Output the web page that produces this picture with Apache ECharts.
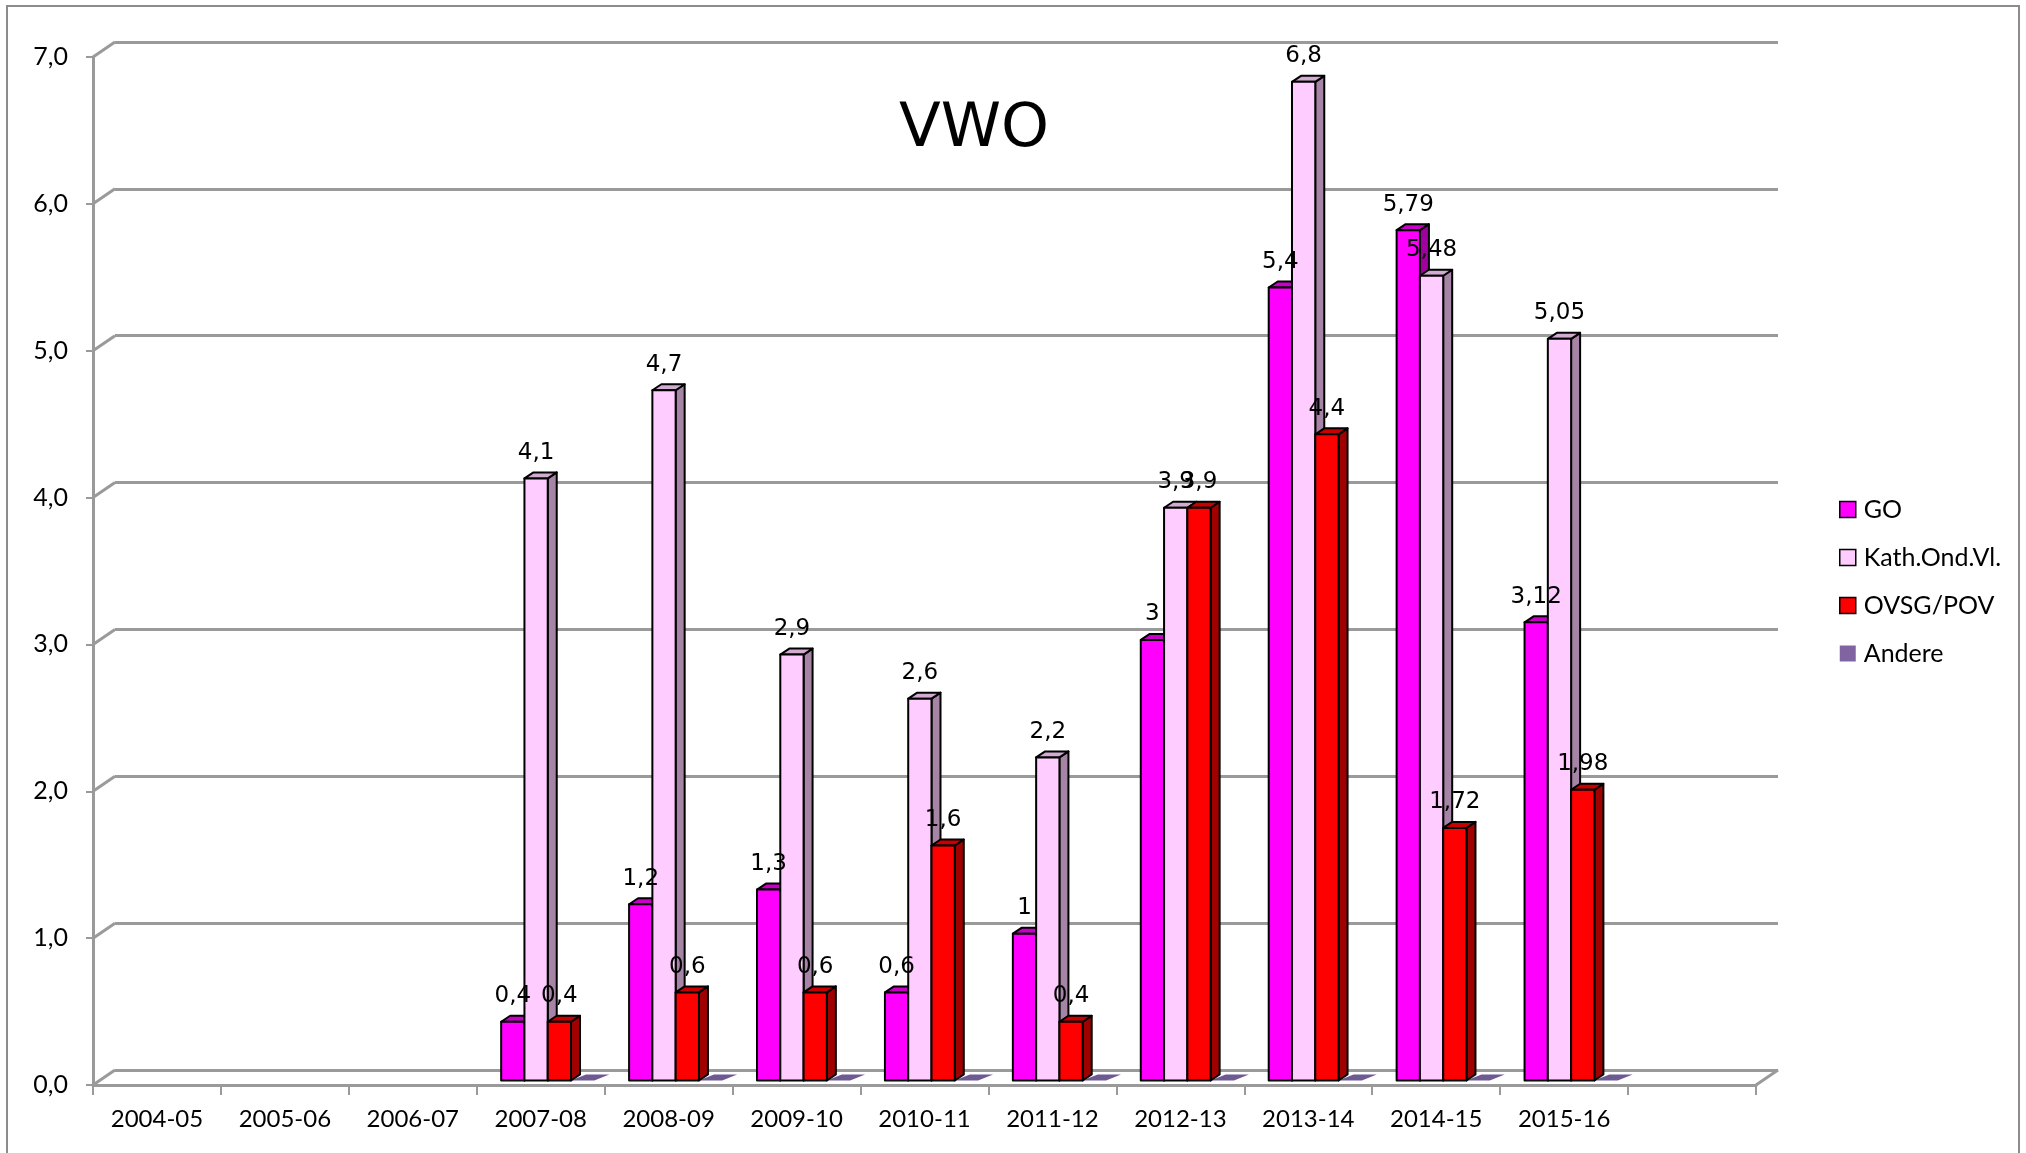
<!DOCTYPE html>
<html>
<head>
<meta charset="utf-8">
<title>VWO</title>
<script src="https://cdn.jsdelivr.net/npm/echarts@6/dist/echarts.min.js"></script>
<style>
  html, body { margin: 0; padding: 0; background: #fff; }
  #chart { width: 2026px; height: 1153px; }
</style>
</head>
<body>
<div id="chart"></div>
<script>
// schooljaren (laatste categorie is leeg)
var years = ['2004-05', '2005-06', '2006-07', '2007-08', '2008-09', '2009-10', '2010-11', '2011-12', '2012-13', '2013-14', '2014-15', '2015-16', ''];
var goValues = [null, null, null, 0.4, 1.2, 1.3, 0.6, 1, 3, 5.4, 5.79, 3.12, null];
var kathValues = [null, null, null, 4.1, 4.7, 2.9, 2.6, 2.2, 3.9, 6.8, 5.48, 5.05, null];
var ovsgValues = [null, null, null, 0.4, 0.6, 0.6, 1.6, 0.4, 3.9, 4.4, 1.72, 1.98, null];
var andereValues = [null, null, null, 0, 0, 0, 0, 0, 0, 0, 0, 0, null];
var yTicks = [0, 1, 2, 3, 4, 5, 6, 7];

// diepte-effect
var wallDx = 22, wallDy = 15;   // achterwand t.o.v. voorvlak
var barDx = 9, barDy = 6;       // diepte van een balk
var barShiftX = 7, barShiftY = 4.5;

var faces = [
  { front: '#FF00FF', top: '#C800C8', side: '#A000A0' },
  { front: '#FFCCFF', top: '#D2AAD2', side: '#A684A6' },
  { front: '#FF0000', top: '#C80000', side: '#A00000' },
  { front: '#8064A2', top: '#6E5A93', side: '#5C4A80' }
];

function fmt(v) {
  return String(v).replace('.', ',');
}

function barRenderer(k) {
  return function (params, api) {
    var idx = api.value(0);
    var val = api.value(1);
    if (isNaN(val)) return;
    var bandW = api.size([1, 0])[0];
    var bw = bandW * 0.182;
    var base = api.coord([idx, 0]);
    var top = api.coord([idx, val]);
    var x = base[0] + barShiftX - 2 * bw + k * bw;
    var yb = base[1] - barShiftY;
    var yt = top[1] - barShiftY;
    var f = faces[k];
    if (val === 0) {
      return {
        type: 'polygon',
        shape: { points: [[x, yb], [x + bw, yb], [x + bw + barDx + 6, yb - barDy], [x + barDx + 6, yb - barDy]] },
        style: { fill: f.top }
      };
    }
    var stroke = { stroke: '#000', lineWidth: 2, lineJoin: 'round' };
    return {
      type: 'group',
      children: [
        { type: 'polygon', shape: { points: [[x + bw, yt], [x + bw + barDx, yt - barDy], [x + bw + barDx, yb - barDy], [x + bw, yb]] },
          style: Object.assign({ fill: f.side }, stroke) },
        { type: 'polygon', shape: { points: [[x, yt], [x + barDx, yt - barDy], [x + bw + barDx, yt - barDy], [x + bw, yt]] },
          style: Object.assign({ fill: f.top }, stroke) },
        { type: 'rect', shape: { x: x, y: yt, width: bw, height: yb - yt },
          style: Object.assign({ fill: f.front }, stroke) },
        // waardelabel boven alle balken
        { type: 'text', z2: 100, style: { text: fmt(val), x: x + bw / 2, y: yt - 14, align: 'center', verticalAlign: 'bottom',
          font: '23px "DejaVu Sans"', fill: '#000' } }
      ]
    };
  };
}

function toData(arr) {
  return arr.map(function (v, i) { return [i, v]; });
}

var chart = echarts.init(document.getElementById('chart'));
var axisGray = '#9a9a9a';

var option = {
  backgroundColor: '#fff',
  animation: false,
  title: {
    text: 'VWO',
    left: 894,
    top: 95,
    textStyle: { fontFamily: 'DejaVu Sans', fontSize: 61, fontWeight: 'normal', color: '#000' }
  },
  legend: {
    orient: 'vertical',
    left: 1834,
    top: 492,
    itemWidth: 16,
    itemHeight: 16,
    itemGap: 23,
    icon: 'rect',
    textStyle: { fontFamily: 'Lato', fontSize: 25, color: '#000', padding: [0, 0, 0, 3] },
    data: [
      { name: 'GO', itemStyle: { color: '#FF00FF', borderColor: '#000', borderWidth: 1.5 } },
      { name: 'Kath.Ond.Vl.', itemStyle: { color: '#FFCCFF', borderColor: '#000', borderWidth: 1.5 } },
      { name: 'OVSG/POV', itemStyle: { color: '#FF0000', borderColor: '#000', borderWidth: 1.5 } },
      { name: 'Andere', itemStyle: { color: '#8064A2', borderWidth: 0 } }
    ]
  },
  graphic: [{
    type: 'rect',
    shape: { x: 7, y: 6, width: 2012, height: 1160 },
    style: { fill: 'none', stroke: '#8c8c8c', lineWidth: 2 },
    silent: true
  }],
  grid: [
    // voorvlak
    { left: 93, right: 270, top: 57, bottom: 68 },
    // achterwand
    { left: 93 + wallDx, right: 270 - wallDx, top: 57 - wallDy, bottom: 68 + wallDy }
  ],
  xAxis: [
    {
      type: 'category', gridIndex: 0, data: years,
      axisLine: { lineStyle: { color: axisGray, width: 3 } },
      axisTick: { show: true, alignWithLabel: false, length: 10, lineStyle: { color: axisGray, width: 2 } },
      axisLabel: { fontFamily: 'Lato', fontSize: 24, color: '#000', margin: 22, interval: 0 }
    },
    { type: 'category', gridIndex: 1, data: years, show: false }
  ],
  yAxis: [
    {
      type: 'value', gridIndex: 0, min: 0, max: 7, interval: 1,
      axisLine: { show: true, lineStyle: { color: axisGray, width: 3 } },
      axisTick: { show: true, length: 7, lineStyle: { color: axisGray, width: 2 } },
      splitLine: { show: false },
      axisLabel: { fontFamily: 'Lato', fontSize: 25, color: '#000', margin: 25,
        formatter: function (v) { return v.toFixed(1).replace('.', ','); } }
    },
    {
      type: 'value', gridIndex: 1, min: 0, max: 7, interval: 1,
      axisLine: { show: false }, axisTick: { show: false }, axisLabel: { show: false },
      splitLine: { show: true, lineStyle: { color: axisGray, width: 3 } }
    }
  ],
  series: [
    {
      // schuine verbindingen voorvlak -> achterwand
      type: 'custom', name: 'wand', xAxisIndex: 0, yAxisIndex: 0, z: 1, silent: true,
      data: yTicks.map(function (v) { return [0, v]; }),
      renderItem: function (params, api) {
        var bandW = api.size([1, 0])[0];
        var p = api.coord([0, api.value(1)]);
        var left = p[0] - bandW / 2;
        var lines = [{ type: 'line', shape: { x1: left, y1: p[1], x2: left + wallDx, y2: p[1] - wallDy },
          style: { stroke: axisGray, lineWidth: 3 } }];
        if (api.value(1) === 0) {
          var r = api.coord([years.length - 1, 0])[0] + bandW / 2;
          lines.push({ type: 'line', shape: { x1: r, y1: p[1], x2: r + wallDx, y2: p[1] - wallDy },
            style: { stroke: axisGray, lineWidth: 3 } });
        }
        return { type: 'group', children: lines };
      }
    },
    { type: 'custom', name: 'GO', z: 5, itemStyle: { color: '#FF00FF' }, data: toData(goValues), renderItem: barRenderer(0) },
    { type: 'custom', name: 'Kath.Ond.Vl.', z: 5, itemStyle: { color: '#FFCCFF' }, data: toData(kathValues), renderItem: barRenderer(1) },
    { type: 'custom', name: 'OVSG/POV', z: 5, itemStyle: { color: '#FF0000' }, data: toData(ovsgValues), renderItem: barRenderer(2) },
    { type: 'custom', name: 'Andere', z: 4, itemStyle: { color: '#8064A2' }, data: toData(andereValues), renderItem: barRenderer(3) }
  ]
};

chart.setOption(option);
</script>
</body>
</html>
